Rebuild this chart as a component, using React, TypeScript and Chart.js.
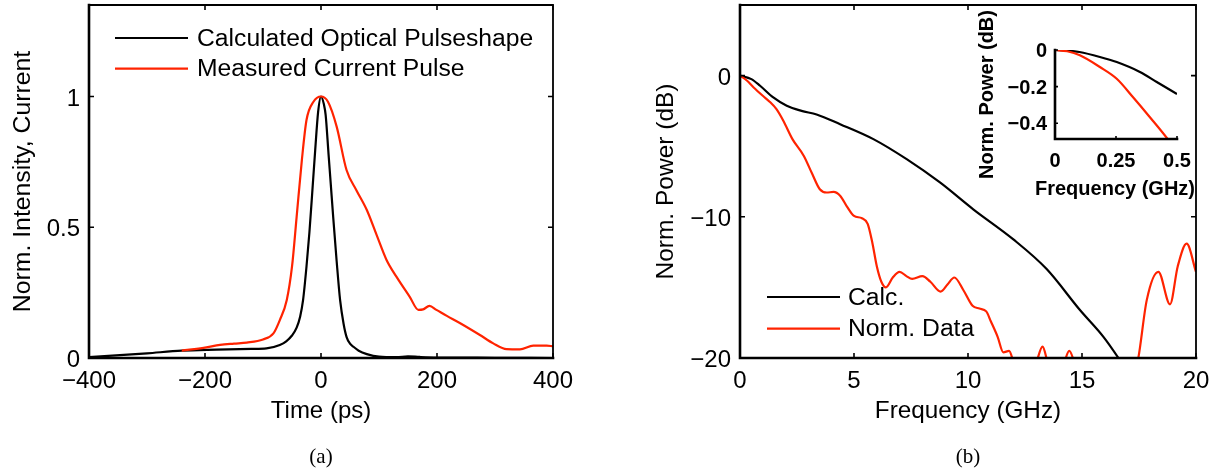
import React, { useEffect, useRef } from 'react';
import { Chart, registerables } from 'chart.js';

Chart.register(...registerables);

const SANS = "'Liberation Sans', Arial, Helvetica, sans-serif";
const SERIF = "'Liberation Serif', 'Times New Roman', serif";
const RED = '#ff2300';

// ---------- Panel (a): time domain ----------
const calcTime = [-400, -300, -240, -180, -120, -94, -71, -60, -50, -42, -36, -31, -25, -20, -16, -10, -5, 0, 5, 8, 13, 17, 21, 27, 33, 39, 44, 50, 56, 65, 79, 100, 130, 150, 170, 200, 300, 400];
const calcIntensity = [0.003, 0.018, 0.028, 0.032, 0.035, 0.037, 0.05, 0.064, 0.086, 0.116, 0.158, 0.22, 0.35, 0.48, 0.604, 0.795, 0.94, 1.0, 0.97, 0.93, 0.78, 0.66, 0.54, 0.37, 0.22, 0.13, 0.081, 0.055, 0.043, 0.028, 0.015, 0.005, 0.003, 0.006, 0.004, 0.002, 0.001, 0.0];
const measTime = [-240, -200, -174, -150, -128, -100, -82, -71, -59, -50, -42, -33, -25, -13, 0, 12, 27, 44, 61, 79, 96, 113, 130, 153, 168, 176, 187, 199, 217, 240, 274, 297, 320, 343, 366, 389, 400];
const measCurrent = [0.028, 0.04, 0.05, 0.055, 0.059, 0.071, 0.094, 0.145, 0.222, 0.349, 0.54, 0.757, 0.91, 0.98, 1.0, 0.98, 0.885, 0.719, 0.642, 0.566, 0.47, 0.375, 0.311, 0.234, 0.184, 0.186, 0.199, 0.184, 0.161, 0.133, 0.088, 0.056, 0.034, 0.033, 0.047, 0.047, 0.045];
const timeTicks = [-400, -200, 0, 200, 400];
const intensityTicks = [0, 0.5, 1];

// ---------- Panel (b): frequency domain ----------
const calcFreq = [0, 0.5, 0.88, 1.46, 2.05, 2.7, 3.36, 4.39, 5.85, 7.31, 8.77, 10.23, 11.99, 13.45, 14.91, 15.94, 16.6, 17.2];
const calcPower = [0, -0.25, -0.72, -1.55, -2.14, -2.5, -2.75, -3.44, -4.5, -5.92, -7.57, -9.47, -11.6, -13.7, -16.6, -18.5, -20, -21.5];
const dataFreq = [0, 0.3, 0.6, 1.0, 1.3, 1.6, 1.9, 2.3, 2.8, 3.15, 3.5, 3.8, 4.1, 4.4, 4.7, 5.0, 5.35, 5.6, 5.8, 6.0, 6.2, 6.4, 6.7, 7.0, 7.3, 7.55, 8.0, 8.35, 8.8, 9.1, 9.4, 9.8, 10.2, 10.5, 10.8, 11.0, 11.3, 11.55, 11.8, 12.0, 12.3, 12.7, 13.0, 13.27, 13.5, 13.9, 14.2, 14.44, 14.7, 15.2, 16.0, 17.0, 17.47, 17.84, 18.35, 18.86, 19.2, 19.59, 20];
const dataPower = [0, -0.35, -0.84, -1.43, -1.85, -2.38, -3.2, -4.5, -5.69, -6.9, -8.05, -8.28, -8.24, -8.52, -9.3, -9.94, -10.1, -10.5, -11.8, -13.5, -14.6, -15.0, -14.3, -13.9, -14.2, -14.4, -14.2, -14.6, -15.3, -14.8, -14.3, -15.2, -16.3, -16.5, -16.7, -17.4, -18.5, -19.6, -19.5, -20.3, -21.5, -21.5, -20.3, -19.2, -20.3, -21.2, -20.4, -19.5, -20.5, -23, -25, -23, -20, -15.9, -13.9, -16.2, -13.5, -11.9, -13.9];
const freqTicks = [0, 5, 10, 15, 20];
const powerTicks = [-20, -10, 0];

// ---------- Inset ----------
const insetCalcFreq = [0, 0.05, 0.1, 0.184, 0.253, 0.348, 0.417, 0.5];
const insetCalcPower = [0, -0.003, -0.011, -0.038, -0.066, -0.12, -0.175, -0.24];
const insetDataFreq = [0, 0.05, 0.102, 0.184, 0.253, 0.32, 0.389, 0.464, 0.48];
const insetDataPower = [0, -0.007, -0.029, -0.093, -0.157, -0.258, -0.367, -0.49, -0.52];
const insetFreqTicks = [0, 0.25, 0.5];
const insetPowerTicks = [0, -0.2, -0.4];

const fmt = (v: number) => (v < 0 ? '\u2212' + String(Math.abs(v)) : String(v));
const toXY = (xs: number[], ys: number[]) => xs.map((x, i) => ({ x, y: ys[i] }));

const zeroPad = (s: any) => {
  s.paddingTop = 0;
  s.paddingBottom = 0;
  s.paddingLeft = 0;
  s.paddingRight = 0;
};

function hAxis(min: number, max: number, ticks: number[], title: string | null, height: number, tickPad: number, titlePad: number, size: number, titleSize: number, bold: boolean) {
  const weight = bold ? 'bold' : 'normal';
  return {
    type: 'linear',
    min,
    max,
    afterBuildTicks: (s: any) => { s.ticks = ticks.map((v) => ({ value: v })); },
    afterFit: (s: any) => { s.height = height; zeroPad(s); },
    ticks: { padding: tickPad, font: { family: SANS, size, weight }, color: '#000', callback: (v: any) => fmt(Number(v)), maxRotation: 0, autoSkip: false },
    grid: { display: false, drawTicks: false },
    border: { display: false },
    title: { display: !!title, text: title || '', font: { family: SANS, size: titleSize, weight }, color: '#000', padding: { top: 0, bottom: titlePad } },
  };
}

function vAxis(min: number, max: number, ticks: number[], title: string, width: number, tickPad: number, titlePad: number, size: number, titleSize: number, bold: boolean, labelOffset: number) {
  const weight = bold ? 'bold' : 'normal';
  return {
    type: 'linear',
    min,
    max,
    afterBuildTicks: (s: any) => { s.ticks = ticks.map((v) => ({ value: v })); },
    afterFit: (s: any) => { s.width = width; zeroPad(s); },
    ticks: { padding: tickPad, labelOffset, font: { family: SANS, size, weight }, color: '#000', callback: (v: any) => fmt(Number(v)), autoSkip: false },
    grid: { display: false, drawTicks: false },
    border: { display: false },
    title: { display: true, text: title, font: { family: SANS, size: titleSize, weight }, color: '#000', padding: { top: titlePad, bottom: 0 } },
  };
}

const framePlugin = {
  id: 'frame',
  afterDatasetsDraw(chart: any, _args: any, opts: any) {
    const { ctx, chartArea: a, scales } = chart;
    const xs = scales.x;
    const ys = scales.y;
    const tl = opts.tickLen ?? 5;
    ctx.save();
    ctx.strokeStyle = '#000';
    ctx.lineCap = 'butt';
    ctx.lineWidth = opts.tickWidth ?? 1.6;
    ctx.beginPath();
    xs.ticks.forEach((t: any) => {
      const px = xs.getPixelForValue(t.value);
      ctx.moveTo(px, a.bottom);
      ctx.lineTo(px, a.bottom - tl);
      if (opts.box) {
        ctx.moveTo(px, a.top);
        ctx.lineTo(px, a.top + tl);
      }
    });
    ys.ticks.forEach((t: any) => {
      const py = ys.getPixelForValue(t.value);
      ctx.moveTo(a.left, py);
      ctx.lineTo(a.left + tl, py);
      if (opts.box) {
        ctx.moveTo(a.right, py);
        ctx.lineTo(a.right - tl, py);
      }
    });
    ctx.stroke();
    ctx.lineCap = 'square';
    ctx.lineWidth = opts.mainWidth ?? 2.6;
    ctx.beginPath();
    ctx.moveTo(a.left, a.top);
    ctx.lineTo(a.left, a.bottom);
    ctx.lineTo(a.right, a.bottom);
    ctx.stroke();
    if (opts.box) {
      ctx.lineWidth = opts.boxWidth ?? 1.8;
      ctx.beginPath();
      ctx.moveTo(a.left, a.top);
      ctx.lineTo(a.right, a.top);
      ctx.lineTo(a.right, a.bottom);
      ctx.stroke();
    }
    ctx.restore();
  },
};

const legendPlugin = {
  id: 'inlineLegend',
  afterDraw(chart: any, _args: any, opts: any) {
    if (!opts || opts.x0 === undefined) return;
    const { ctx } = chart;
    ctx.save();
    ctx.font = `${opts.size}px ${SANS}`;
    ctx.textBaseline = 'middle';
    ctx.textAlign = 'left';
    chart.data.datasets.forEach((ds: any, i: number) => {
      const y = opts.y + i * opts.gap;
      ctx.strokeStyle = ds.borderColor;
      ctx.lineWidth = ds.borderWidth;
      ctx.beginPath();
      ctx.moveTo(opts.x0, y);
      ctx.lineTo(opts.x1, y);
      ctx.stroke();
      ctx.fillStyle = '#000';
      ctx.fillText(ds.label, opts.tx, y + 1);
    });
    ctx.restore();
  },
};

// x-axis title that may run wider than the (narrow) inset axis
const freeTitlePlugin = {
  id: 'freeTitle',
  afterDraw(chart: any, _args: any, opts: any) {
    if (!opts || !opts.text) return;
    const { ctx, scales } = chart;
    const xs = scales.x;
    ctx.save();
    ctx.font = `bold ${opts.size}px ${SANS}`;
    ctx.textBaseline = 'middle';
    ctx.textAlign = 'center';
    ctx.fillStyle = '#000';
    ctx.fillText(opts.text, (xs.left + xs.right) / 2 + (opts.dx || 0), opts.y);
    ctx.restore();
  },
};

const baseOptions = (padding: any) => ({
  animation: false,
  responsive: false,
  devicePixelRatio: 1,
  layout: { padding },
  elements: { point: { radius: 0 }, line: { cubicInterpolationMode: 'monotone', fill: false } },
});

const configA = () => ({
  type: 'line',
  data: {
    datasets: [
      { label: 'Calculated Optical Pulseshape', data: toXY(calcTime, calcIntensity), borderColor: '#000', borderWidth: 2.2, order: 2 },
      { label: 'Measured Current Pulse', data: toXY(measTime, measCurrent), borderColor: RED, borderWidth: 2.2, order: 1 },
    ],
  },
  options: {
    ...baseOptions({ left: 0, top: 5, right: 47, bottom: 44 }),
    plugins: {
      legend: { display: false },
      tooltip: { enabled: false },
      frame: { box: true },
      inlineLegend: { x0: 115, x1: 188, tx: 197, y: 38, gap: 30.6, size: 24.7 },
    },
    scales: {
      x: hAxis(-400, 400, timeTicks, 'Time (ps)', 70, 9, 2.6, 24, 24, false),
      y: vAxis(0, 1.35, intensityTicks, 'Norm. Intensity, Current', 89, 9, 8.6, 24, 24.8, false, 2.5),
    },
  },
  plugins: [framePlugin, legendPlugin],
});

const configB = () => ({
  type: 'line',
  data: {
    datasets: [
      { label: 'Calc.', data: toXY(calcFreq, calcPower), borderColor: '#000', borderWidth: 2.2, order: 2 },
      { label: 'Norm. Data', data: toXY(dataFreq, dataPower), borderColor: RED, borderWidth: 2.2, order: 1 },
    ],
  },
  options: {
    ...baseOptions({ left: 0, top: 5, right: 19, bottom: 44 }),
    plugins: {
      legend: { display: false },
      tooltip: { enabled: false },
      frame: { box: true },
      inlineLegend: { x0: 167, x1: 240, tx: 248, y: 297, gap: 31.6, size: 24.7 },
    },
    scales: {
      x: hAxis(0, 20, freqTicks, 'Frequency (GHz)', 70, 9, 2.6, 24, 24.3, false),
      y: vAxis(-20, 5, powerTicks, 'Norm. Power (dB)', 140, 9, 51.6, 24, 24.5, false, 2.5),
    },
  },
  plugins: [framePlugin, legendPlugin],
});

const configInset = () => ({
  type: 'line',
  data: {
    datasets: [
      { label: 'Calc.', data: toXY(insetCalcFreq, insetCalcPower), borderColor: '#000', borderWidth: 2.2, order: 2 },
      { label: 'Norm. Data', data: toXY(insetDataFreq, insetDataPower), borderColor: RED, borderWidth: 2.2, order: 1 },
    ],
  },
  options: {
    ...baseOptions({ left: 0, top: 50, right: 33, bottom: 1 }),
    plugins: {
      legend: { display: false },
      tooltip: { enabled: false },
      frame: { box: false, tickLen: 3, mainWidth: 2.6 },
      freeTitle: { text: 'Frequency (GHz)', y: 189, size: 20, dx: -1 },
    },
    scales: {
      x: hAxis(0, 0.5, insetFreqTicks, null, 70, 10, 0, 20, 20, true),
      y: vAxis(-0.486, 0, insetPowerTicks, 'Norm. Power (dB)', 95, 8, 15, 20, 20, true, 1.5),
    },
  },
  plugins: [framePlugin, freeTitlePlugin],
});

function ChartCanvas({ left, top, width, height, config }: any) {
  const ref = useRef<HTMLCanvasElement>(null);
  useEffect(() => {
    const chart = new Chart(ref.current as HTMLCanvasElement, config() as any);
    return () => chart.destroy();
  }, []);
  return (
    <canvas
      ref={ref}
      width={width}
      height={height}
      style={{ position: 'absolute', left, top, width, height }}
    />
  );
}

const captionStyle = (cx: number, cy: number): React.CSSProperties => ({
  position: 'absolute',
  left: cx,
  top: cy,
  transform: 'translate(-50%, -50%)',
  fontFamily: SERIF,
  fontSize: 21,
  lineHeight: 1,
  color: '#000',
  whiteSpace: 'nowrap',
});

export default function App() {
  return (
    <div style={{ position: 'absolute', left: 0, top: 0, width: 1215, height: 472, background: '#fff', overflow: 'hidden' }}>
      <ChartCanvas left={0} top={0} width={600} height={472} config={configA} />
      <ChartCanvas left={600} top={0} width={615} height={472} config={configB} />
      <ChartCanvas left={960} top={0} width={250} height={210} config={configInset} />
      <div style={captionStyle(321, 456)}>(a)</div>
      <div style={captionStyle(968, 456)}>(b)</div>
    </div>
  );
}
